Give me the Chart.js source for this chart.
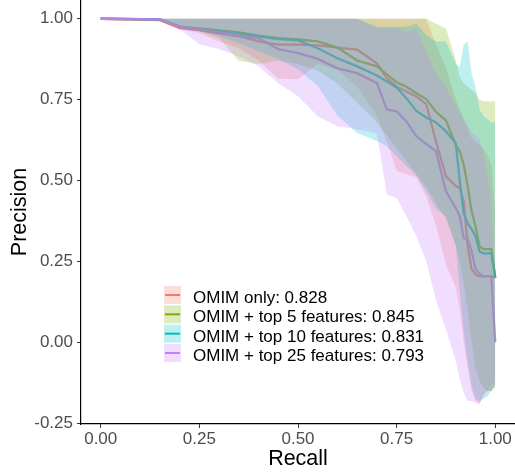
<!DOCTYPE html>
<html>
<head>
<meta charset="utf-8">
<script src="https://cdn.jsdelivr.net/npm/chart.js@4.4.0/dist/chart.umd.min.js"></script>
<style>
  html, body { margin: 0; padding: 0; background: #fff; }
</style>
</head>
<body>
<canvas id="pr" width="515" height="476"></canvas>
<script>
// recall grid shared by every curve
const recall = [0, 0.15, 0.2, 0.25, 0.3, 0.35, 0.4, 0.45, 0.5, 0.55, 0.6, 0.65, 0.7, 0.725, 0.75, 0.775,
  0.8, 0.825, 0.85, 0.875, 0.9, 0.91, 0.92, 0.93, 0.94, 0.95, 0.96, 0.97, 0.98, 0.99, 1.0];

const seriesLabels = ['OMIM only: 0.828', 'OMIM + top 5 features: 0.845',
  'OMIM + top 10 features: 0.831', 'OMIM + top 25 features: 0.793'];
const seriesColors = ['#F8766D', '#7CAE00', '#00BFC4', '#C77CFF'];

// mean precision
const omimMean = [1, 0.996, 0.971, 0.965, 0.955, 0.946, 0.93, 0.92, 0.92, 0.918, 0.911, 0.905, 0.862, 0.816, 0.79, 0.775,
  0.76, 0.736, 0.62, 0.513, 0.483, 0.477, 0.437, 0.298, 0.227, 0.21, 0.205, 0.205, 0.205, 0.205, 0.2];
const top5Mean = [1, 0.998, 0.976, 0.97, 0.964, 0.958, 0.948, 0.94, 0.936, 0.93, 0.911, 0.871, 0.853, 0.828, 0.804, 0.79,
  0.77, 0.752, 0.712, 0.686, 0.61, 0.59, 0.55, 0.483, 0.405, 0.359, 0.297, 0.288, 0.288, 0.288, 0.2];
const top10Mean = [1, 0.998, 0.976, 0.968, 0.962, 0.955, 0.946, 0.937, 0.933, 0.909, 0.878, 0.853, 0.825, 0.806, 0.788, 0.754,
  0.715, 0.695, 0.68, 0.652, 0.615, 0.498, 0.399, 0.368, 0.35, 0.328, 0.281, 0.275, 0.275, 0.275, 0.2];
const top25Mean = [1, 0.998, 0.976, 0.968, 0.958, 0.948, 0.94, 0.906, 0.894, 0.876, 0.847, 0.832, 0.801, 0.72, 0.714, 0.683,
  0.637, 0.613, 0.591, 0.467, 0.415, 0.39, 0.322, 0.32, 0.282, 0.226, 0.213, 0.204, 0.204, 0.204, 0.0];

// ribbon bounds
const omimLow = [1, 0.996, 0.968, 0.955, 0.93, 0.91, 0.87, 0.815, 0.813, 0.86, 0.84, 0.79, 0.70, 0.62, 0.53, 0.52,
  0.51, 0.45, 0.36, 0.24, 0.17, 0.10, 0.0, -0.08, -0.15, -0.18, -0.19, -0.16, -0.15, -0.15, -0.14];
const omimHigh = [1, 1, 1, 1, 1, 1, 1, 1, 1, 1, 1, 1, 1, 1, 1, 1,
  1, 1, 0.92, 0.85, 0.75, 0.72, 0.69, 0.66, 0.63, 0.62, 0.61, 0.60, 0.58, 0.55, 0.4];
const top5Low = [1, 0.998, 0.975, 0.96, 0.94, 0.87, 0.86, 0.87, 0.86, 0.84, 0.80, 0.74, 0.68, 0.64, 0.60, 0.56,
  0.52, 0.48, 0.43, 0.38, 0.30, 0.25, 0.18, 0.10, 0.0, -0.08, -0.12, -0.14, -0.15, -0.15, -0.13];
const top5High = [1, 1, 1, 1, 1, 1, 1, 1, 1, 1, 1, 1, 1, 1, 1, 1,
  1, 1, 0.985, 0.97, 0.87, 0.82, 0.80, 0.79, 0.78, 0.77, 0.75, 0.745, 0.745, 0.745, 0.745];
const top10Low = [1, 0.996, 0.974, 0.962, 0.946, 0.925, 0.9, 0.875, 0.844, 0.792, 0.70, 0.647, 0.622, 0.606, 0.575, 0.545,
  0.514, 0.467, 0.412, 0.39, 0.297, 0.158, 0.035, -0.058, -0.135, -0.175, -0.181, -0.175, -0.166, -0.15, -0.135];
const top10High = [1, 1, 1, 1, 1, 1, 1, 1, 1, 1, 1, 1, 0.975, 0.975, 0.975, 0.975,
  0.985, 0.95, 0.93, 0.93, 0.86, 0.85, 0.92, 0.93, 0.83, 0.79, 0.72, 0.70, 0.69, 0.68, 0.68];
const top25Low = [1, 0.996, 0.968, 0.921, 0.906, 0.884, 0.853, 0.801, 0.761, 0.699, 0.668, 0.659, 0.646, 0.458, 0.446, 0.39,
  0.328, 0.251, 0.128, 0.041, -0.058, -0.113, -0.156, -0.181, -0.181, -0.187, -0.19, -0.166, -0.15, -0.135, -0.12];
const top25High = [1, 1, 1, 1, 1, 1, 1, 1, 1, 1, 1, 1, 0.971, 0.971, 0.971, 0.96,
  0.97, 0.90, 0.83, 0.79, 0.73, 0.71, 0.69, 0.67, 0.65, 0.64, 0.63, 0.58, 0.52, 0.45, 0.15];

const xTicks = [0, 0.25, 0.5, 0.75, 1];
const yTicks = [-0.25, 0, 0.25, 0.5, 0.75, 1];

const means = [omimMean, top5Mean, top10Mean, top25Mean];
const lows = [omimLow, top5Low, top10Low, top25Low];
const highs = [omimHigh, top5High, top10High, top25High];

const RIBBON_ALPHA = 0.25;
function alpha(hex, a) {
  const n = parseInt(hex.slice(1), 16);
  return `rgba(${n >> 16}, ${(n >> 8) & 255}, ${n & 255}, ${a})`;
}
const toPts = arr => arr.map((v, k) => ({ x: recall[k], y: v }));

const datasets = [];
// lines get a high order so they sit under the ribbons; last group on top, like ggplot
means.forEach((m, i) => {
  datasets.push({
    label: seriesLabels[i], data: toPts(m), borderColor: seriesColors[i],
    borderWidth: 2.3, pointRadius: 0, fill: false, order: 13 - i
  });
});
lows.forEach((lo, i) => {
  const loIdx = datasets.length;
  datasets.push({
    data: toPts(lo), showLine: false, borderWidth: 0, borderColor: 'rgba(0,0,0,0)',
    pointRadius: 0, fill: false, order: 4 - i
  });
  datasets.push({
    data: toPts(highs[i]), showLine: false, borderWidth: 0, borderColor: 'rgba(0,0,0,0)',
    pointRadius: 0, fill: loIdx, backgroundColor: alpha(seriesColors[i], RIBBON_ALPHA), order: 4 - i
  });
});

const FONT = '"Liberation Sans", Arial, Helvetica, sans-serif';

// legend sits inside the panel, ggplot style
const keyLegend = {
  id: 'keyLegend',
  afterDraw(chart) {
    const ctx = chart.ctx;
    ctx.save();
    seriesLabels.forEach((label, i) => {
      const top = 286 + i * 19.33;
      ctx.fillStyle = alpha(seriesColors[i], RIBBON_ALPHA);
      ctx.fillRect(164, top, 17, 18);
      ctx.strokeStyle = seriesColors[i];
      ctx.lineWidth = 2;
      ctx.beginPath();
      ctx.moveTo(165, top + 9);
      ctx.lineTo(180, top + 9);
      ctx.stroke();
      ctx.fillStyle = '#000';
      ctx.font = '17px ' + FONT;
      ctx.textBaseline = 'alphabetic';
      ctx.textAlign = 'left';
      ctx.fillText(label, 193, top + 17);
    });
    ctx.restore();
  }
};

const tickFont = { family: FONT, size: 17 };
const titleFont = { family: FONT, size: 21.5 };

new Chart('pr', {
  type: 'line',
  data: { datasets },
  plugins: [keyLegend],
  options: {
    responsive: false,
    animation: false,
    layout: { padding: 0 },
    plugins: { legend: { display: false }, tooltip: { enabled: false } },
    elements: { line: { tension: 0 }, point: { radius: 0 } },
    scales: {
      x: {
        type: 'linear', min: -0.05, max: 1.05,
        afterBuildTicks: s => { s.ticks = xTicks.map(v => ({ value: v })); },
        afterFit: s => { s.height = 52; s.paddingLeft = 0; s.paddingRight = 0; },
        ticks: { callback: v => v.toFixed(2), font: tickFont, color: '#4D4D4D', padding: 1, maxRotation: 0, autoSkip: false },
        grid: { display: true, drawOnChartArea: false, tickLength: 4, tickColor: '#333', tickWidth: 1 },
        border: { display: true, color: '#000', width: 1.2 },
        title: { display: true, text: 'Recall', font: titleFont, color: '#000', padding: { top: 0, bottom: 4 } }
      },
      y: {
        type: 'linear', min: -0.252, max: 1.058,
        afterBuildTicks: s => { s.ticks = yTicks.map(v => ({ value: v })); },
        afterFit: s => { s.width = 81; s.paddingTop = 0; s.paddingBottom = 0; },
        ticks: { callback: v => v.toFixed(2), font: tickFont, color: '#4D4D4D', padding: 4, autoSkip: false },
        grid: { display: true, drawOnChartArea: false, tickLength: 4, tickColor: '#333', tickWidth: 1 },
        border: { display: true, color: '#000', width: 1.2 },
        title: { display: true, text: 'Precision', font: titleFont, color: '#000', padding: { top: 7, bottom: 0 } }
      }
    }
  }
});
</script>
</body>
</html>
